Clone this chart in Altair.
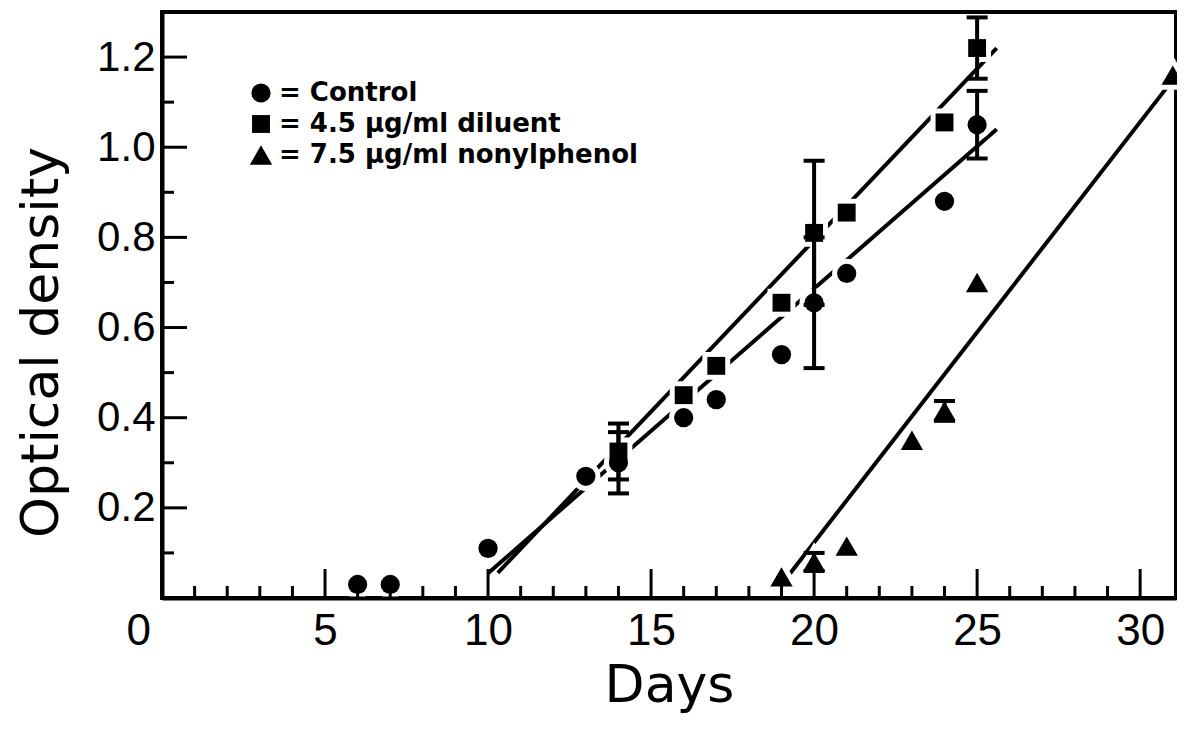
import altair as alt
import pandas as pd

# ---------------- data ----------------
series_names = ["Control", "4.5 µg/ml diluent", "7.5 µg/ml nonylphenol"]

ctrl_day = [6, 7, 10, 13, 14, 16, 17, 19, 20, 21, 24, 25]
ctrl_od = [0.03, 0.03, 0.11, 0.27, 0.30, 0.40, 0.44, 0.54, 0.655, 0.72, 0.88, 1.05]

dil_day = [14, 16, 17, 19, 20, 21, 24, 25]
dil_od = [0.325, 0.45, 0.515, 0.655, 0.81, 0.855, 1.055, 1.22]

non_day = [19, 20, 21, 23, 24, 25, 31]
non_od = [0.047, 0.08, 0.115, 0.35, 0.415, 0.70, 1.16]

# error bars (± half-width)
ctrl_err_day = [14, 20, 25]
ctrl_err = [0.068, 0.145, 0.075]
dil_err_day = [14, 20, 25]
dil_err = [0.062, 0.16, 0.068]
non_err_day = [20, 24]
non_err = [0.02, 0.022]

# fitted regression lines (end points)
ctrl_fit_day = [10.0, 25.6]
ctrl_fit_od = [0.055, 1.04]
dil_fit_day = [10.3, 25.6]
dil_fit_od = [0.056, 1.22]
non_fit_day = [19.0, 30.9]
non_fit_od = [0.03, 1.14]

# axis ticks
x_labels = [0, 5, 10, 15, 20, 25, 30]
x_major_ticks = [5, 10, 15, 20, 25, 30]
x_minor_ticks = [1, 2, 3, 4, 6, 7, 8, 9, 11, 12, 13, 14, 16, 17, 18, 19,
                 21, 22, 23, 24, 26, 27, 28, 29]
y_labels = [0.2, 0.4, 0.6, 0.8, 1.0, 1.2]
y_major_ticks = [0.2, 0.4, 0.6, 0.8, 1.0, 1.2]
y_minor_ticks = [0.1, 0.3, 0.5, 0.7, 0.9, 1.1]

# ---------------- tables ----------------
W, H = 1014, 586
FONT = "Liberation Sans"
TITLE_FONT = "DejaVu Sans"
LEG_FONT = "DejaVu Sans"

pts = pd.concat([
    pd.DataFrame({"day": ctrl_day, "od": ctrl_od, "series": series_names[0]}),
    pd.DataFrame({"day": dil_day, "od": dil_od, "series": series_names[1]}),
    pd.DataFrame({"day": non_day, "od": non_od, "series": series_names[2]}),
], ignore_index=True)

def err_table(days, errs, src_days, src_od, name):
    lookup = dict(zip(src_days, src_od))
    return pd.DataFrame({
        "day": days,
        "lo": [lookup[d] - e for d, e in zip(days, errs)],
        "hi": [lookup[d] + e for d, e in zip(days, errs)],
        "series": name,
    })

errs = pd.concat([
    err_table(ctrl_err_day, ctrl_err, ctrl_day, ctrl_od, series_names[0]),
    err_table(dil_err_day, dil_err, dil_day, dil_od, series_names[1]),
    err_table(non_err_day, non_err, non_day, non_od, series_names[2]),
], ignore_index=True)

fits = pd.concat([
    pd.DataFrame({"day": ctrl_fit_day, "od": ctrl_fit_od, "series": series_names[0]}),
    pd.DataFrame({"day": dil_fit_day, "od": dil_fit_od, "series": series_names[1]}),
    pd.DataFrame({"day": non_fit_day, "od": non_fit_od, "series": series_names[2]}),
], ignore_index=True)

xs = alt.Scale(domain=[0, 31.1], nice=False, zero=False)
ys = alt.Scale(domain=[0, 1.3], nice=False, zero=False)

x_axis = alt.Axis(
    values=x_labels, ticks=False, tickSize=0, grid=False, zindex=1,
    labelFontSize=44, labelPadding=11, labelFont=FONT, labelColor="black",
    labelOffset={"condition": {"test": "datum.value == 0", "value": -36}, "value": 0},
    domainColor="black", domainWidth=4,
    title="Days", titleFontSize=52, titleFont=TITLE_FONT, titleFontWeight="normal",
    titleColor="black", titlePadding=7,
)
y_axis = alt.Axis(
    values=y_labels, format=".1f", ticks=False, tickSize=0, grid=False, zindex=1,
    labelFontSize=42, labelPadding=7, labelFont=FONT, labelColor="black",
    domainColor="black", domainWidth=4,
    title="Optical density", titleFontSize=52, titleFont=TITLE_FONT,
    titleFontWeight="normal", titleColor="black", titlePadding=28,
    titleY=330,
)

def X(field):
    return alt.X(field, scale=xs, axis=x_axis)

def Y(field):
    return alt.Y(field, scale=ys, axis=y_axis)

# fitted lines
lines = alt.Chart(fits).mark_line(color="black", strokeWidth=4).encode(
    x=X("day:Q"), y=Y("od:Q"), detail="series:N",
)

# marker sizes (area) per series
marker_shapes = ["circle", "square", "triangle-up"]
marker_sizes = [370, 320, 500]

# white halos that break the lines around markers
halos = []
for name, shp, sz in zip(series_names, marker_shapes, marker_sizes):
    halos.append(
        alt.Chart(pts[pts.series == name]).mark_point(
            shape=shp, size=sz, filled=True, fill="white", stroke="white",
            strokeWidth=10, opacity=1,
        ).encode(x=X("day:Q"), y=Y("od:Q"))
    )

# error bars
err_rules = alt.Chart(errs).mark_rule(color="black", strokeWidth=4).encode(
    x=X("day:Q"), y=Y("lo:Q"), y2="hi:Q",
)
cap_lo = alt.Chart(errs).mark_tick(color="black", orient="horizontal", size=21,
                                   thickness=4, opacity=1).encode(
    x=X("day:Q"), y=Y("lo:Q"),
)
cap_hi = alt.Chart(errs).mark_tick(color="black", orient="horizontal", size=21,
                                   thickness=4, opacity=1).encode(
    x=X("day:Q"), y=Y("hi:Q"),
)

# inward axis ticks
def xticks(vals, length):
    return alt.Chart(pd.DataFrame({"day": vals})).mark_rule(
        color="black", strokeWidth=3).encode(
        x=X("day:Q"), y=alt.value(H), y2=alt.value(H - length))

def yticks(vals, length):
    return alt.Chart(pd.DataFrame({"od": vals})).mark_rule(
        color="black", strokeWidth=3).encode(
        y=Y("od:Q"), x=alt.value(0), x2=alt.value(length))

ticks = [xticks(x_minor_ticks, 12), xticks(x_major_ticks, 29),
         yticks(y_minor_ticks, 12), yticks(y_major_ticks, 25)]

legend = alt.Legend(
    orient="none", legendX=86, legendY=68, title=None,
    labelExpr="'= ' + datum.label",
    labelFont=LEG_FONT, labelFontSize=26, labelFontWeight="bold",
    labelColor="black", labelLimit=600, labelOffset=5,
    symbolFillColor="black", symbolStrokeColor="black",
    symbolStrokeWidth=0, symbolOpacity=1, rowPadding=5,
)

# black markers with legend
markers = alt.Chart(pts).mark_point(filled=True, color="black", opacity=1).encode(
    x=X("day:Q"), y=Y("od:Q"),
    shape=alt.Shape(
        "series:N",
        scale=alt.Scale(domain=series_names, range=marker_shapes),
        legend=legend,
    ),
    size=alt.Size(
        "series:N",
        scale=alt.Scale(type="ordinal", domain=series_names, range=marker_sizes),
        legend=legend,
    ),
)

chart = alt.layer(lines, *halos, err_rules, cap_lo, cap_hi, *ticks, markers).properties(
    width=W, height=H,
    autosize=alt.AutoSizeParams(type="none"),
    padding={"left": 154, "top": 4, "right": 1, "bottom": 130},
    background="white",
).configure_view(stroke="black", strokeWidth=4)

chart.save("out.html", embed_options={"renderer": "svg", "actions": False})
